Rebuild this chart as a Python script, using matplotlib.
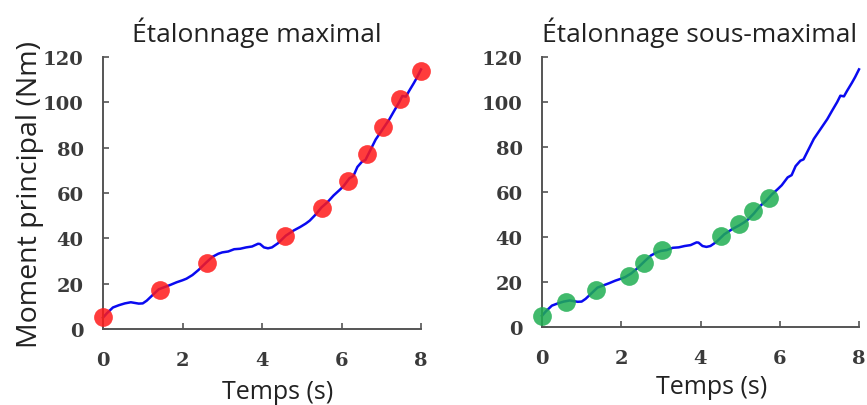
import matplotlib
matplotlib.use("Agg")
import matplotlib.pyplot as plt

# Blue torque curve (same trial shown in both panels)
time_s = [0, 0.1, 0.25, 0.4, 0.55, 0.7, 0.8, 0.9, 1.0, 1.1, 1.25, 1.4, 1.55, 1.7, 1.85, 2.0,
          2.1, 2.25, 2.4, 2.6, 2.75, 2.9, 3.0, 3.15, 3.3, 3.45, 3.6, 3.75, 3.9, 3.95, 4.05,
          4.15, 4.25, 4.4, 4.6, 4.8, 4.96, 5.1, 5.2, 5.35, 5.5, 5.65, 5.8, 5.95, 6.05, 6.2,
          6.3, 6.4, 6.52, 6.6, 6.7, 6.86, 7.03, 7.2, 7.32, 7.45, 7.53, 7.62, 7.7, 7.82, 7.9, 8.0]
torque = [5, 7, 9.5, 10.5, 11.3, 11.8, 11.5, 11.2, 11.3, 12.5, 15, 17.5, 18.5, 19.5, 20.6, 21.5,
          22.2, 23.8, 26, 29.4, 31.8, 33.2, 33.8, 34.2, 35.2, 35.4, 36, 36.4, 37.6, 37.5, 36.0,
          35.6, 36.0, 37.8, 41.2, 43.5, 45, 46.5, 47.8, 50.5, 53.7, 56, 58.9, 61.3, 63, 66.5,
          67.5, 71.5, 73.9, 74.5, 78, 83.6, 88, 92.4, 96.1, 100, 102.8, 102.5, 105, 108.5, 111, 114.5]

# Calibration points
max_x = [0, 1.43, 2.61, 4.58, 5.5, 6.17, 6.63, 7.05, 7.47, 8.0]
max_y = [5.2, 17.2, 29.2, 41.2, 53.5, 65.5, 77.3, 89.3, 101.5, 114]
sub_x = [0, 0.61, 1.36, 2.2, 2.58, 3.02, 4.52, 4.97, 5.32, 5.73]
sub_y = [5.0, 11.0, 16.6, 22.8, 28.4, 34.4, 40.3, 45.8, 51.7, 57.3]

titles = ["Étalonnage maximal", "Étalonnage sous-maximal"]
xticks = [0, 2, 4, 6, 8]
yticks = [0, 20, 40, 60, 80, 100, 120]
xlabel = "Temps (s)"
ylabel = "Moment principal (Nm)"

W, H = 867, 406
fig = plt.figure(figsize=(W / 100, H / 100), dpi=100)

sans = ["Open Sans", "DejaVu Sans"]
spine_col = "#555555"
tick_col = "#3a3a3a"
text_col = "#222222"

def px_axes(x0, x1, y0, y1):
    return fig.add_axes([x0 / W, 1 - y1 / H, (x1 - x0) / W, (y1 - y0) / H])

axL = px_axes(103, 421, 58, 330)
axR = px_axes(542, 859, 58, 328)

for ax, mx, my, col, title, tcx in [
    (axL, max_x, max_y, "#ff1a1a", titles[0], 257),
    (axR, sub_x, sub_y, "#1fae52", titles[1], 700),
]:
    ax.plot(time_s, torque, color="#0a0af0", lw=1.8, zorder=2, clip_on=False)
    ax.plot(mx, my, "o", ms=13.5, color=col, alpha=0.85, mec="none", zorder=3, clip_on=False)
    ax.set_xlim(0, 8)
    ax.set_ylim(0, 120)
    ax.set_xticks(xticks)
    ax.set_yticks(yticks)
    for s in ["top", "right"]:
        ax.spines[s].set_visible(False)
    for s in ["left", "bottom"]:
        ax.spines[s].set_color(spine_col)
        ax.spines[s].set_linewidth(1.4)
    ax.tick_params(axis="both", direction="in", length=4, width=1.2, color=spine_col,
                   labelcolor=tick_col)
    ax.tick_params(axis="y", pad=14)
    ax.tick_params(axis="x", pad=16)
    for lab in ax.get_xticklabels() + ax.get_yticklabels():
        lab.set_fontfamily("DejaVu Serif")
        lab.set_fontweight("bold")
        lab.set_fontsize(14)
    fig.text(tcx / W, 1 - 33 / H, title, ha="center", va="center", fontsize=19,
             family=sans, color=text_col)

fig.text(278 / W, 1 - 393 / H, xlabel, ha="center", va="center", fontsize=18,
         family=sans, color=text_col)
fig.text(712 / W, 1 - 388 / H, xlabel, ha="center", va="center", fontsize=18,
         family=sans, color=text_col)
fig.text(30 / W, 1 - 194 / H, ylabel, ha="center", va="center", rotation=90,
         fontsize=20.5, family=sans, color=text_col)

fig.savefig("out.png", dpi=100)
